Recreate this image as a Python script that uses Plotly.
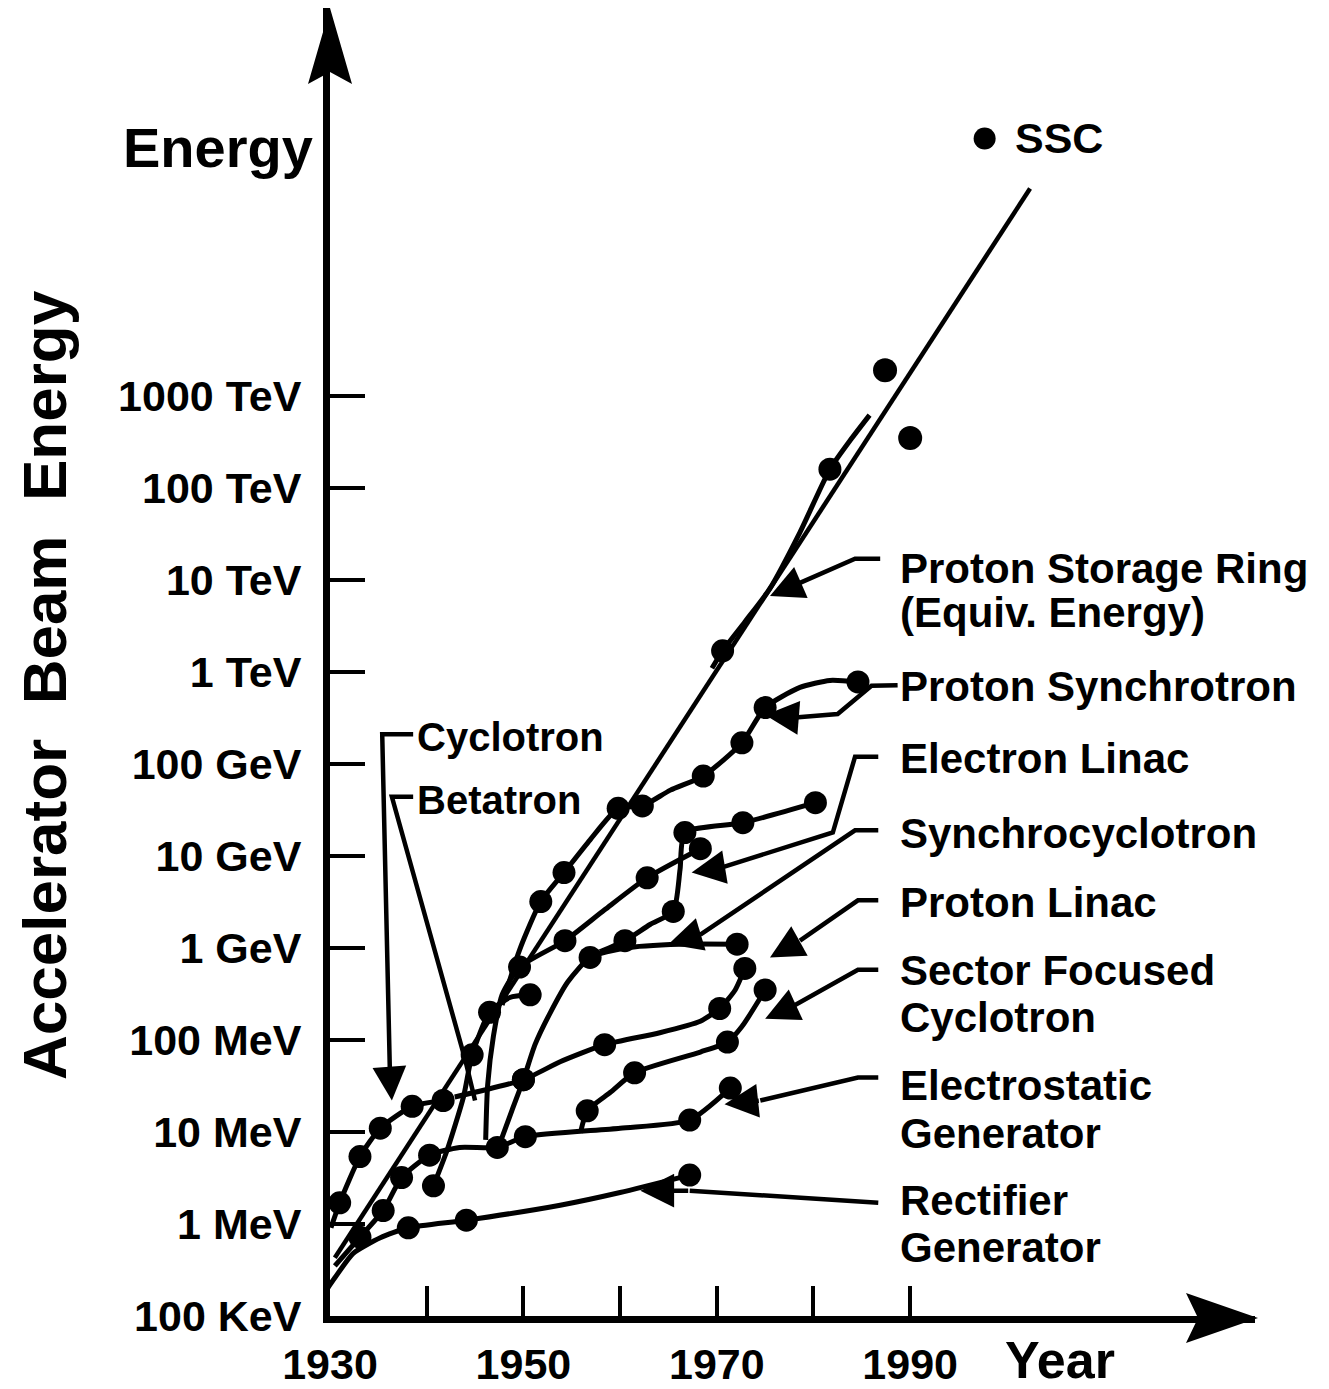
import numpy as np
import plotly.graph_objects as go

# the page body adds an 8px margin, so the figure is 8px smaller than the window
W, H = 1321, 1381
OFF = 8
INK = '#000000'
FONT = 'Liberation Sans'

# ---- values: year, beam energy (eV) ----
rect_year = [1929.6, 1930.5, 1932.4, 1935.2, 1938.1, 1944.1, 1953.8, 1960.0, 1967.2]
rect_ev = [1.9e5, 2.6e5, 4.8e5, 7.1e5, 9.1e5, 1.1e6, 1.6e6, 2.2e6, 3.4e6]
rect_dots = [0, 4, 5, 8]

estat_year = [1930.5, 1933.1, 1935.5, 1937.4, 1940.3, 1943.4, 1947.3, 1950.2, 1960.0, 1967.2, 1971.4]
estat_ev = [3.5e5, 7.2e5, 1.4e6, 3.2e6, 5.6e6, 6.8e6, 6.8e6, 8.9e6, 1.1e7, 1.35e7, 3.0e7]
estat_dots = [1, 2, 3, 4, 6, 7, 9, 10]

cyc_year = [1930.1, 1931.0, 1933.1, 1935.2, 1938.5, 1941.7]
cyc_ev = [9.1e5, 1.7e6, 5.4e6, 1.1e7, 1.9e7, 2.2e7]
cyc_dots = [1, 2, 3, 4, 5]

beta_year = [1940.7, 1942.1, 1943.8, 1944.7, 1946.5, 1948.6, 1950.7]
beta_ev = [2.6e6, 6.3e6, 2.4e7, 6.9e7, 2.0e8, 2.9e8, 3.1e8]
beta_dots = [0, 3, 4, 6]

esync_year = [1946.1, 1946.3, 1946.9, 1947.8, 1949.6, 1954.3, 1958.4, 1962.8, 1968.3]
esync_ev = [8.2e6, 3.2e7, 1.1e8, 3.1e8, 6.2e8, 1.2e9, 2.6e9, 5.8e9, 1.2e10]
esync_dots = [4, 5, 7, 8]

psync_year = [1947.8, 1949.6, 1951.8, 1954.2, 1956.9, 1959.8, 1962.3, 1965.2,
              1968.6, 1972.6, 1975.0, 1978.6, 1981.7, 1984.6]
psync_ev = [2.4e8, 9.5e8, 3.2e9, 6.6e9, 1.5e10, 3.3e10, 3.5e10, 5.2e10,
            7.4e10, 1.7e11, 4.1e11, 6.8e11, 8.1e11, 7.8e11]
psync_dots = [2, 3, 5, 6, 8, 9, 10, 13]

synchro_year = [1947.3, 1948.8, 1950.0, 1951.2, 1952.8, 1954.6, 1956.9, 1960.5, 1966.2, 1972.1]
synchro_ev = [6.3e6, 1.7e7, 3.7e7, 8.9e7, 2.0e8, 4.3e8, 7.9e8, 1.0e9, 1.1e9, 1.1e9]
synchro_dots = [2, 6, 9]

plinac_year = [1942.9, 1950.0, 1953.8, 1958.4, 1964.1, 1968.3, 1970.3, 1971.9, 1972.9]
plinac_ev = [2.4e7, 3.7e7, 5.8e7, 8.9e7, 1.2e8, 1.6e8, 2.2e8, 3.5e8, 6.0e8]
plinac_dots = [1, 3, 6, 8]

elinac_year = [1957.9, 1960.5, 1963.1, 1965.5, 1966.2, 1966.7, 1972.7, 1980.2]
elinac_ev = [9.1e8, 1.2e9, 1.8e9, 2.5e9, 7.1e9, 1.8e10, 2.3e10, 3.8e10]
elinac_dots = [1, 3, 5, 6, 7]

sector_year = [1955.9, 1956.6, 1959.0, 1961.5, 1968.3, 1971.1, 1972.6, 1975.0]
sector_ev = [9.8e6, 1.7e7, 2.7e7, 4.4e7, 7.4e7, 9.5e7, 1.4e8, 3.5e8]
sector_dots = [1, 3, 5, 7]

psr_year = [1969.5, 1970.6, 1972.9, 1975.5, 1978.6, 1981.7, 1983.8, 1985.8]
psr_ev = [1.1e12, 1.7e12, 3.5e12, 8.1e12, 3.3e13, 1.6e14, 3.3e14, 6.2e14]
psr_dots = [1, 5]

trend_year = [1930.5, 2002.4]
trend_ev = [4.3e5, 1.8e17]

extra_year = [1987.4, 1990.0]
extra_ev = [1.9e15, 3.5e14]
ssc_year = [1997.7]
ssc_ev = [6.3e17]

year_ticks = [1930, 1940, 1950, 1960, 1970, 1980, 1990]
year_labels = ['1930', '', '1950', '', '1970', '', '1990']
energy_ticks = [1e5, 1e6, 1e7, 1e8, 1e9, 1e10, 1e11, 1e12, 1e13, 1e14, 1e15]
energy_labels = ['100 KeV', '1 MeV', '10 MeV', '100 MeV', '1 GeV', '10 GeV',
                 '100 GeV', '1 TeV', '10 TeV', '100 TeV', '1000 TeV']

# leader lines from the labels: (path years, path eV, arrow tip or None)
pointers = [
    ([1986.9, 1984.3, 1978.6], [1.7e13, 1.7e13, 9.3e12], (1975.5, 6.7e12)),
    ([1988.7, 1986.0, 1982.5, 1978.1], [7.2e11, 7.1e11, 3.5e11, 3.2e11], (1975.0, 3.4e11)),
    ([1986.7, 1984.3, 1982.0, 1970.3], [1.2e11, 1.2e11, 1.8e10, 7.4e9], (1967.4, 6.6e9)),
    ([1986.7, 1984.3, 1968.3], [1.9e10, 1.9e10, 1.4e9], (1965.0, 1.1e9)),
    ([1986.7, 1984.6, 1978.6], [3.3e9, 3.3e9, 1.2e9], (1975.5, 7.9e8)),
    ([1986.7, 1984.6, 1978.1], [5.8e8, 5.8e8, 2.4e8], (1975.0, 1.7e8)),
    ([1986.7, 1984.6, 1974.5], [3.9e7, 3.9e7, 2.2e7], (1970.8, 2.0e7)),
    ([1986.7, 1967.2], [1.7e6, 2.3e6], (1962.1, 2.3e6)),
    ([1938.6, 1935.4, 1936.2], [2.1e11, 2.1e11, 4.2e7], (1936.4, 2.2e7)),
    ([1938.6, 1936.4, 1944.0, 1945.0], [4.4e10, 4.4e10, 6.0e7, 2.2e7], None),
]

fig = go.Figure()

def curve(yr, ev, dots, smooth=0.6, size=23):
    fig.add_trace(go.Scatter(x=yr, y=ev, mode='lines', cliponaxis=False,
                             line=dict(color=INK, width=5, shape='spline', smoothing=smooth),
                             hoverinfo='skip'))
    fig.add_trace(go.Scatter(x=[yr[i] for i in dots], y=[ev[i] for i in dots],
                             mode='markers', cliponaxis=False,
                             marker=dict(size=size, color=INK)))

curve(rect_year, rect_ev, rect_dots)
curve(estat_year, estat_ev, estat_dots)
curve(cyc_year, cyc_ev, cyc_dots)
curve(beta_year, beta_ev, beta_dots)
curve(esync_year, esync_ev, esync_dots)
curve(psync_year, psync_ev, psync_dots)
curve(synchro_year, synchro_ev, synchro_dots)
curve(plinac_year, plinac_ev, plinac_dots)
curve(elinac_year, elinac_ev, elinac_dots)
curve(sector_year, sector_ev, sector_dots)
curve(psr_year, psr_ev, psr_dots)

fig.add_trace(go.Scatter(x=trend_year, y=trend_ev, mode='lines',
                         line=dict(color=INK, width=4.5)))
fig.add_trace(go.Scatter(x=extra_year, y=extra_ev, mode='markers',
                         marker=dict(size=24, color=INK)))
fig.add_trace(go.Scatter(x=ssc_year, y=ssc_ev, mode='markers',
                         marker=dict(size=22, color=INK)))

for px_, py_, tip in pointers:
    fig.add_trace(go.Scatter(x=px_, y=py_, mode='lines', cliponaxis=False,
                             line=dict(color=INK, width=4.5)))
    if tip:
        fig.add_annotation(x=tip[0], y=np.log10(tip[1]), xref='x', yref='y',
                           ax=px_[-1], ay=np.log10(py_[-1]), axref='x', ayref='y',
                           text='', showarrow=True, arrowhead=2, arrowsize=1.5,
                           arrowwidth=4.5, arrowcolor=INK, standoff=0)

def fx(x):
    return (x - OFF) / W

def fy(y):
    return 1 - (y - OFF) / H

def P(x, y):
    return f'{fx(x):.5f},{fy(y):.5f}'

# axis arrowheads
fig.add_shape(type='path', xref='paper', yref='paper', fillcolor=INK, line=dict(width=0),
              path=f'M{P(330, 8)} L{P(352, 84)} L{P(330, 72)} L{P(308, 84)} Z')
fig.add_shape(type='path', xref='paper', yref='paper', fillcolor=INK, line=dict(width=0),
              path=f'M{P(1258, 1318)} L{P(1186, 1343)} L{P(1198, 1318)} L{P(1186, 1293)} Z')

def label(x, y, text, size=42, anchor='left', **kw):
    fig.add_annotation(xref='paper', yref='paper', x=fx(x), y=fy(y), text=text,
                       showarrow=False, xanchor=anchor, yanchor='middle',
                       font=dict(family=FONT, size=size, color=INK, weight='bold'), **kw)

label(898, 568, 'Proton Storage Ring')
label(898, 612, '(Equiv. Energy)')
label(898, 686, 'Proton Synchrotron')
label(898, 758, 'Electron Linac')
label(898, 833, 'Synchrocyclotron')
label(898, 902, 'Proton Linac')
label(898, 970, 'Sector Focused')
label(898, 1017, 'Cyclotron')
label(898, 1085, 'Electrostatic')
label(898, 1133, 'Generator')
label(898, 1200, 'Rectifier')
label(898, 1247, 'Generator')
label(415, 737, 'Cyclotron', size=40)
label(415, 800, 'Betatron', size=40)
label(1013, 138, 'SSC', size=43)
label(218, 148, 'Energy', size=56, anchor='center')
label(1060, 1360, 'Year', size=52, anchor='center')
label(44, 685, 'Accelerator&nbsp;&nbsp;Beam&nbsp;&nbsp;Energy', size=62, anchor='center', textangle=-90)

tickfont = dict(family=FONT, size=43, color=INK, weight='bold')
fig.update_layout(
    width=W, height=H, margin=dict(l=0, r=0, t=0, b=0, pad=0),
    paper_bgcolor='white', plot_bgcolor='white', showlegend=False,
    xaxis=dict(domain=[fx(330), fx(1255)], range=[1930, 2025.66],
               showgrid=False, zeroline=False, showline=True, linecolor=INK, linewidth=7,
               ticks='inside', ticklen=30, tickwidth=4, tickcolor=INK,
               tickvals=year_ticks, ticktext=year_labels, tickfont=tickfont,
               ticklabelstandoff=4, automargin=False, fixedrange=True),
    yaxis=dict(type='log', domain=[fy(1316), 1], range=[5, 5 + (1316 - OFF) / 92],
               showgrid=False, zeroline=False, showline=True, linecolor=INK, linewidth=7,
               ticks='inside', ticklen=35, tickwidth=4, tickcolor=INK,
               tickvals=energy_ticks, ticktext=energy_labels, tickfont=tickfont,
               ticklabelstandoff=13, automargin=False, fixedrange=True),
)

fig.write_html('out.html')
